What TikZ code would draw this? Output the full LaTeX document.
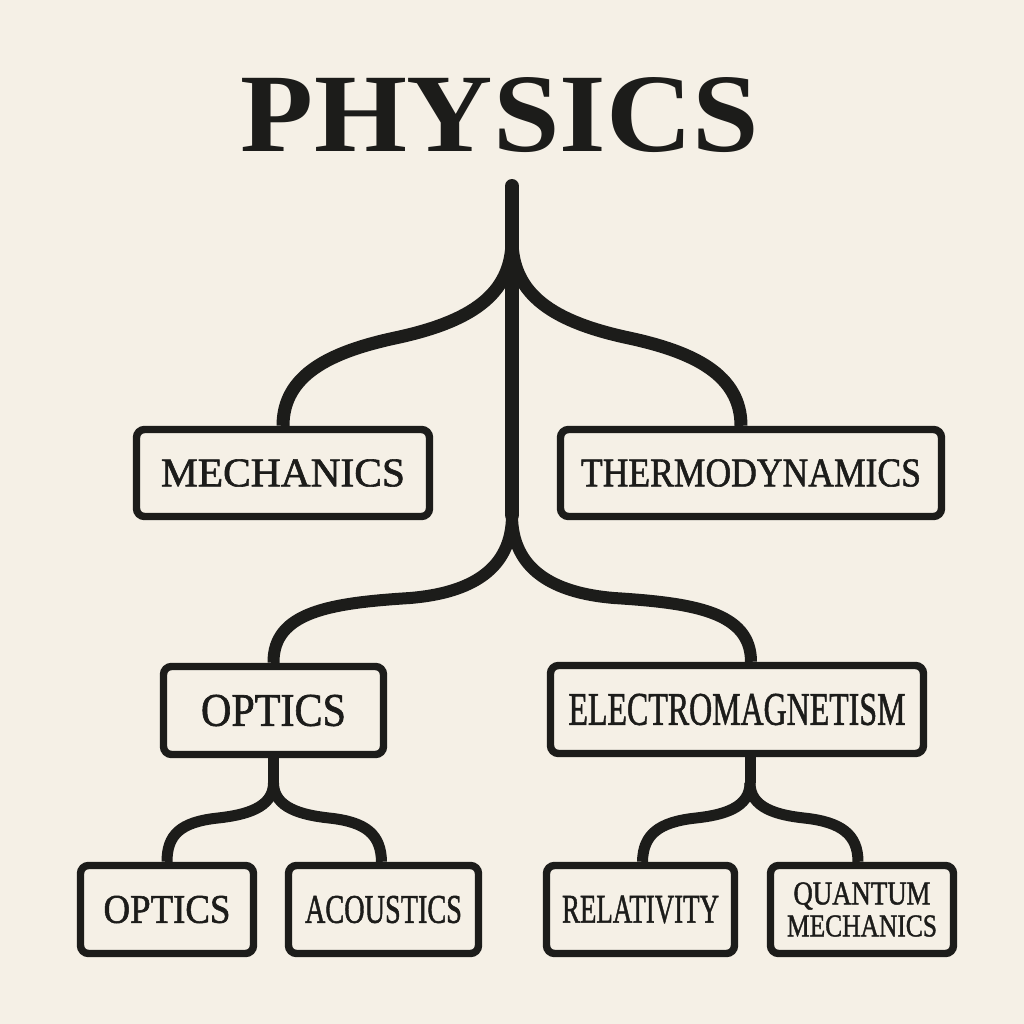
\documentclass[tikz,border=0pt]{standalone}
\usepackage{fontspec}
\usepackage{graphicx}
\setmainfont{Liberation Serif}
\newfontfamily\labelfont[FakeBold=1.4]{Liberation Serif}
\definecolor{paper}{HTML}{F5F0E6}
\definecolor{ink}{HTML}{1C1C1A}
\tikzset{
  box/.style={draw=ink, fill=paper, line width=3.7pt, rounded corners=4pt,
    inner sep=0pt, text=ink, font=\labelfont, align=center},
  trunkline/.style={draw=ink, line width=7pt},
  branchline/.style={draw=ink, line width=6.5pt},
  lowline/.style={draw=ink, line width=6pt},
  twigline/.style={draw=ink, line width=5.5pt},
}
\newcommand\fitto[3]{\resizebox{#1}{#2}{#3}}
\begin{document}
\begin{tikzpicture}[x=0.5pt,y=-0.5pt]
\fill[paper] (0,0) rectangle (1024,1024);
\useasboundingbox (0,0) rectangle (1024,1024);

% title
\node[inner sep=0pt, text=ink] (title) at (500,115)
  {\bfseries\fitto{259pt}{37pt}{PHYSICS}};

% boxes
\node[box, minimum width=146.5pt, minimum height=43.5pt] (mech) at (283,473)
  {\fitto{122pt}{13.5pt}{MECHANICS}};
\node[box, minimum width=190.5pt, minimum height=43.5pt] (thermo) at (751,473)
  {\fitto{170pt}{13.5pt}{THERMODYNAMICS}};
\node[box, minimum width=110pt, minimum height=44pt] (optm) at (273.5,710.5)
  {\fitto{72.5pt}{15.5pt}{OPTICS}};
\node[box, minimum width=186.5pt, minimum height=44pt] (em) at (737,709.5)
  {\fitto{168.5pt}{15.5pt}{ELECTROMAGNETISM}};
\node[box, minimum width=86.5pt, minimum height=44pt] (optb) at (167,909.5)
  {\fitto{63.5pt}{13.5pt}{OPTICS}};
\node[box, minimum width=95pt, minimum height=44pt] (acou) at (383.5,909.5)
  {\fitto{78.5pt}{13.5pt}{ACOUSTICS}};
\node[box, minimum width=94pt, minimum height=44pt] (rel) at (640.5,909.5)
  {\fitto{78.5pt}{13.5pt}{RELATIVITY}};
\node[box, minimum width=91.5pt, minimum height=44pt,
  font=\labelfont\fontsize{10}{16}\selectfont] (qm) at (862,909.5)
  {\fitto{68.5pt}{11pt}{QUANTUM}\\\fitto{75pt}{10.5pt}{MECHANICS}};

% trunk
\coordinate (top) at (512,186);
\coordinate (s1) at (512,240);
\coordinate (s2) at (512,515);
\draw[trunkline, line cap=round] (top) -- (s2);

% upper branches
\draw[branchline] (s1) .. controls (512,295) and (470,322) .. (395,338)
  .. controls (330,352) and (283,375) .. (mech.north);
\draw[branchline] (s1) .. controls (512,295) and (554,322) .. (629,338)
  .. controls (694,352) and (741,375) .. ([xshift=-5pt]thermo.north);

% lower branches
\draw[lowline] (s2) .. controls (512,570) and (470,593) .. (410,598)
  .. controls (330,603) and (273,612) .. (optm.north);
\draw[lowline] (s2) .. controls (512,570) and (554,593) .. (614,598)
  .. controls (694,603) and (751,612) .. ([xshift=7pt]em.north);

% optics sub-branches
\coordinate (o1) at (273.5,783);
\draw[twigline] (optm.south) -- (o1);
\draw[twigline] (o1) .. controls (273.5,808) and (245,815) .. (218,818)
  .. controls (180,822) and (167,835) .. (optb.north);
\draw[twigline] (o1) .. controls (273.5,808) and (302,815) .. (329,818)
  .. controls (367,822) and (381,835) .. ([xshift=-1pt]acou.north);

% electromagnetism sub-branches
\coordinate (e1) at (750,783);
\draw[twigline] ([xshift=6.5pt]em.south) -- (e1);
\draw[twigline] (e1) .. controls (750,808) and (723,815) .. (696,818)
  .. controls (658,822) and (643,835) .. ([xshift=1pt]rel.north);
\draw[twigline] (e1) .. controls (750,808) and (777,815) .. (804,818)
  .. controls (842,822) and (858,835) .. ([xshift=-2pt]qm.north);
\end{tikzpicture}
\end{document}
